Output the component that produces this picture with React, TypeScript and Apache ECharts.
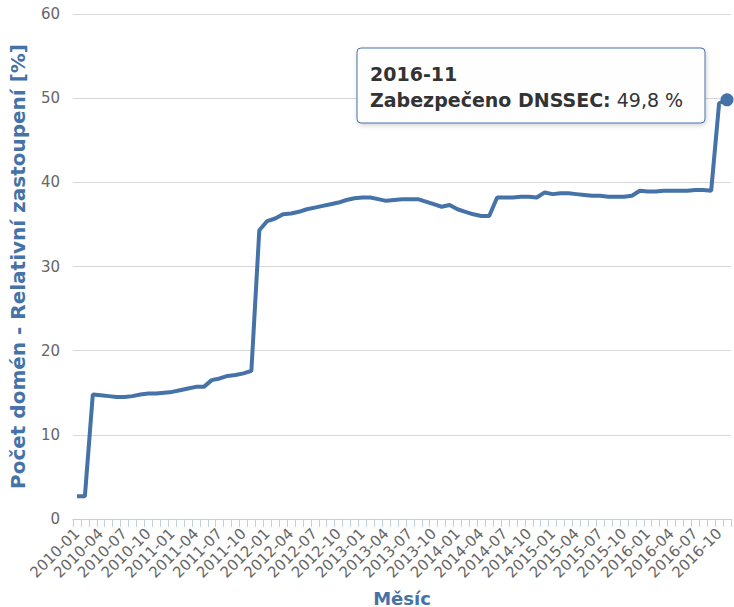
import React, { useEffect, useRef } from "react";
import * as echarts from "echarts";

const startYear = 2010;
const endYear = 2016;
const endMonth = 11;
const categories: string[] = [];
for (let y = startYear; y <= endYear; y++) {
  for (let m = 1; m <= 12; m++) {
    if (y === endYear && m > endMonth) break;
    categories.push(`${y}-${m < 10 ? "0" + m : m}`);
  }
}

const dnssecShare: number[] = [
  2.7, 2.7, 14.8, 14.7, 14.6, 14.5, 14.5, 14.6, 14.8, 14.9, 14.9, 15.0,
  15.1, 15.3, 15.5, 15.7, 15.7, 16.5, 16.7, 17.0, 17.1, 17.3, 17.6, 34.3,
  35.4, 35.7, 36.2, 36.3, 36.5, 36.8, 37.0, 37.2, 37.4, 37.6, 37.9, 38.1,
  38.2, 38.2, 38.0, 37.8, 37.9, 38.0, 38.0, 38.0, 37.7, 37.4, 37.1, 37.3,
  36.8, 36.5, 36.2, 36.0, 36.0, 38.2, 38.2, 38.2, 38.3, 38.3, 38.2, 38.8,
  38.6, 38.7, 38.7, 38.6, 38.5, 38.4, 38.4, 38.3, 38.3, 38.3, 38.4, 39.0,
  38.9, 38.9, 39.0, 39.0, 39.0, 39.0, 39.1, 39.1, 39.0, 49.4, 49.8,
];

const yTicks = [0, 10, 20, 30, 40, 50, 60];
const seriesName = "Zabezpečeno DNSSEC";
const yAxisTitle = "Počet domén - Relativní zastoupení [%]";
const xAxisTitle = "Měsíc";

const BLUE = "#4572A7";
const FONT = "DejaVu Sans";

export default function App() {
  const ref = useRef<HTMLDivElement>(null);
  useEffect(() => {
    if (!ref.current) return;
    const chart = echarts.init(ref.current, undefined, { renderer: "svg" });
    const lastIdx = dnssecShare.length - 1;
    const lastVal = dnssecShare[lastIdx];
    const data = dnssecShare.map((v, i) =>
      i === lastIdx
        ? { value: v, symbol: "circle", symbolSize: 13, itemStyle: { color: BLUE } }
        : { value: v }
    );
    chart.setOption({
      animation: false,
      textStyle: { fontFamily: FONT },
      grid: {
        left: 73,
        right: 3,
        top: 14,
        bottom: 88,
        containLabel: false,
        outerBoundsMode: "none",
      },
      xAxis: {
        type: "category",
        data: categories,
        boundaryGap: true,
        name: xAxisTitle,
        nameLocation: "middle",
        nameGap: 70,
        nameTextStyle: { color: BLUE, fontWeight: "bold", fontSize: 18, fontFamily: FONT },
        axisLine: { lineStyle: { color: "#C0D0E0", width: 1 } },
        axisTick: { show: true, interval: 0, length: 8, lineStyle: { color: "#C0D0E0" } },
        axisLabel: {
          interval: 2,
          rotate: 45,
          color: "#666666",
          fontSize: 15,
          fontFamily: FONT,
          margin: 12,
        },
        splitLine: { show: false },
      },
      yAxis: {
        type: "value",
        min: yTicks[0],
        max: yTicks[yTicks.length - 1],
        interval: yTicks[1] - yTicks[0],
        name: yAxisTitle,
        nameLocation: "middle",
        nameGap: 45,
        nameTextStyle: { color: BLUE, fontWeight: "bold", fontSize: 20, fontFamily: FONT },
        axisLine: { show: false },
        axisTick: { show: false },
        axisLabel: { color: "#666666", fontSize: 15, fontFamily: FONT, margin: 13 },
        splitLine: { lineStyle: { color: "#D8D8D8", width: 1 } },
      },
      series: [
        {
          type: "line",
          name: seriesName,
          data,
          symbol: "none",
          showAllSymbol: true,
          lineStyle: { color: BLUE, width: 4 },
          itemStyle: { color: BLUE },
          emphasis: { disabled: true },
        },
      ],
      graphic: [
        {
          type: "rect",
          shape: { x: 357, y: 48, width: 348, height: 75, r: 4 },
          style: {
            fill: "rgba(255,255,255,0.95)",
            stroke: BLUE,
            lineWidth: 1,
            shadowBlur: 5,
            shadowColor: "rgba(0,0,0,0.18)",
            shadowOffsetX: 1,
            shadowOffsetY: 2,
          },
          z: 100,
        },
        {
          type: "text",
          x: 370,
          y: 64,
          z: 101,
          style: {
            text: categories[lastIdx],
            font: `bold 19px "${FONT}"`,
            fill: "#333333",
            verticalAlign: "top",
          },
        },
        {
          type: "text",
          x: 370,
          y: 90,
          z: 101,
          style: {
            text: `{b|${seriesName}:}{n| ${lastVal.toFixed(1).replace(".", ",")} %}`,
            verticalAlign: "top",
            rich: {
              b: { fontFamily: FONT, fontWeight: "bold", fontSize: 19, fill: "#333333", color: "#333333" },
              n: { fontFamily: FONT, fontSize: 19, fill: "#333333", color: "#333333" },
            },
          },
        },
      ],
    });
    return () => chart.dispose();
  }, []);
  return (
    <div
      ref={ref}
      style={{ position: "fixed", left: 0, top: 0, width: 734, height: 607, background: "#fff" }}
    />
  );
}
